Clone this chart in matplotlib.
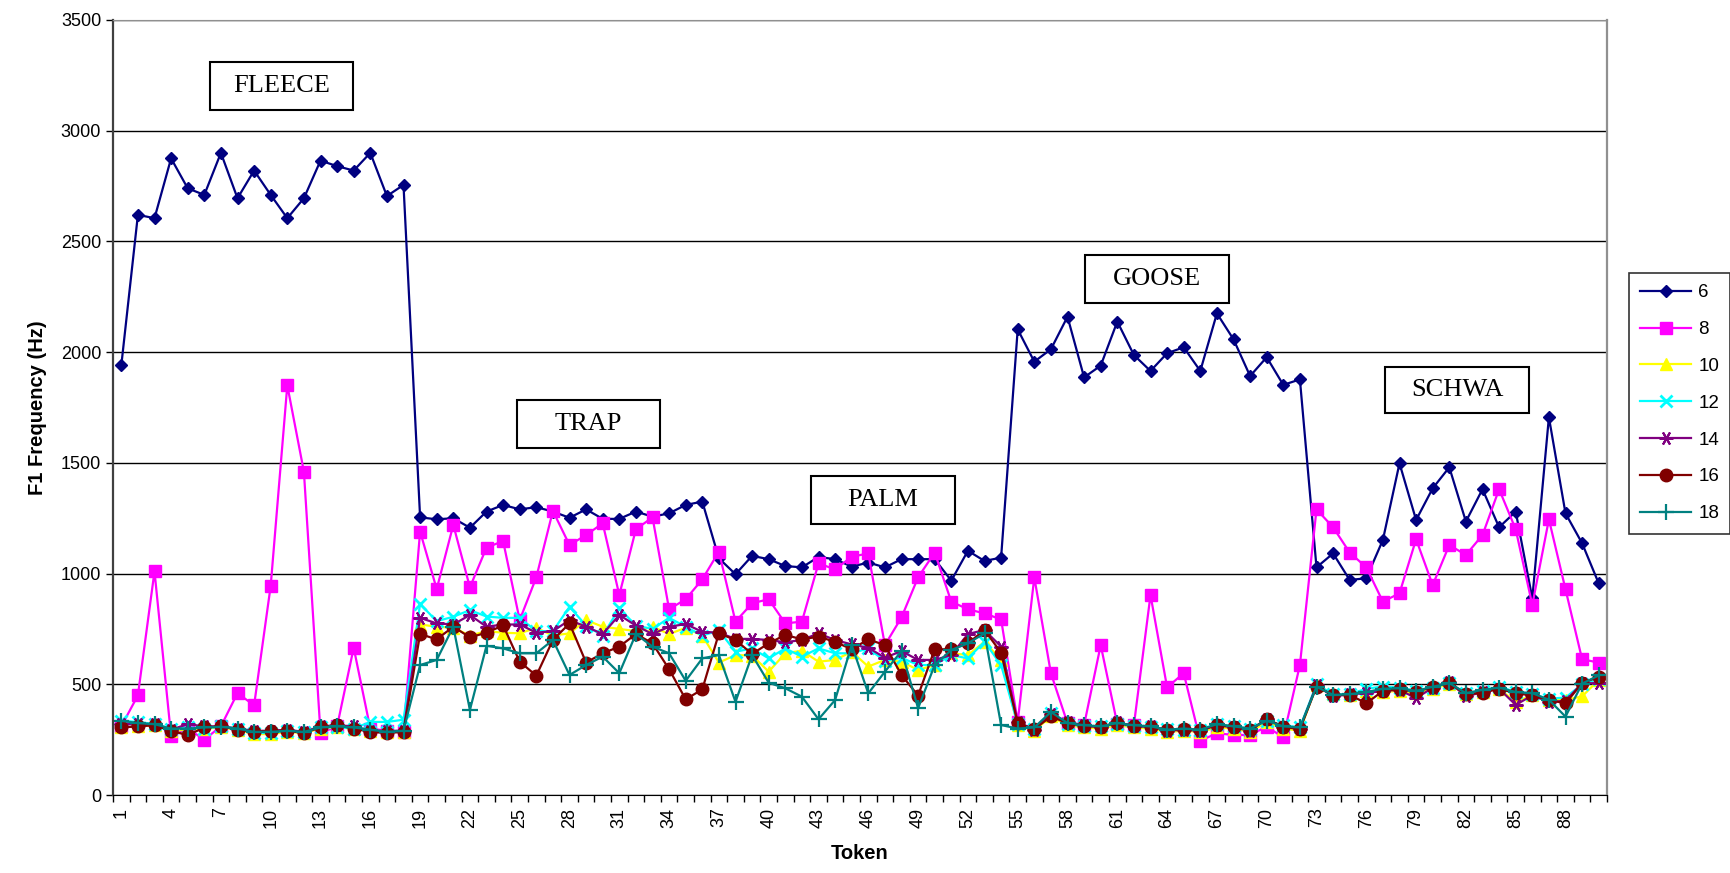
import matplotlib
matplotlib.use("Agg")
import matplotlib.pyplot as plt
from matplotlib.patches import Rectangle
import numpy as np

plt.rcParams['font.family'] = ['Liberation Sans', 'DejaVu Sans']

# ============================
# Data (F1 per token, one list per series)
# ============================
tokens = np.arange(1, 91)

f6 = [1940, 2620, 2605, 2875, 2740, 2710, 2900, 2695, 2820, 2710, 2605, 2695, 2865, 2840, 2820, 2900, 2705, 2755,
      1254, 1245, 1250, 1207, 1280, 1310, 1290, 1300, 1280, 1252, 1290, 1247, 1247, 1280, 1257, 1272, 1310, 1325, 1069, 997,
      1080, 1065, 1034, 1028, 1075, 1065, 1031, 1050, 1028, 1065, 1065, 1065, 968, 1103, 1057, 1072,
      2103, 1957, 2013, 2160, 1886, 1939, 2138, 1987, 1915, 1995, 2022, 1915, 2175, 2058, 1892, 1977, 1852, 1877,
      1028, 1091, 971, 979, 1152, 1498, 1242, 1385, 1480, 1235, 1381, 1209, 1280, 888, 1706, 1272, 1137, 956]

f8 = [310, 450, 1010, 265, 300, 250, 310, 460, 405, 945, 1850, 1460, 280, 310, 665, 300, 290, 285,
      1190, 930, 1220, 938, 1117, 1147, 790, 983, 1283, 1129, 1174, 1227, 903, 1200, 1254, 839, 884, 974, 1099, 783,
      866, 884, 775, 783, 1046, 1019, 1076, 1091, 677, 802, 983, 1095, 873, 839, 820, 793,
      330, 983, 550, 324, 316, 677, 320, 316, 903, 486, 550, 245, 279, 271, 271, 309, 260, 587,
      1290, 1209, 1095, 1028, 873, 911, 1155, 948, 1129, 1084, 1174, 1381, 1200, 858, 1245, 929, 613, 598]

f10 = [305, 310, 315, 290, 295, 300, 305, 295, 275, 275, 285, 280, 300, 305, 300, 290, 285, 285,
       770, 760, 755, 720, 740, 733, 730, 755, 720, 730, 790, 760, 750, 740, 760, 727, 755, 720, 598, 632,
       630, 557, 640, 652, 602, 610, 647, 580, 610, 602, 565, 587, 640, 632, 692, 610,
       315, 290, 355, 315, 305, 300, 315, 305, 300, 285, 290, 285, 305, 300, 285, 330, 300, 290,
       495, 455, 450, 470, 465, 470, 460, 480, 500, 455, 465, 480, 420, 450, 430, 430, 445, 520]

f12 = [335, 330, 320, 300, 305, 300, 310, 300, 280, 280, 290, 285, 305, 305, 300, 330, 330, 340,
       863, 785, 805, 835, 806, 800, 800, 740, 740, 850, 765, 720, 843, 765, 750, 800, 760, 720, 743, 647,
       662, 617, 662, 625, 662, 640, 640, 662, 605, 620, 587, 587, 632, 617, 692, 587,
       320, 300, 370, 320, 310, 310, 320, 310, 305, 300, 295, 295, 320, 310, 300, 335, 315, 305,
       500, 455, 455, 480, 490, 485, 470, 485, 505, 460, 470, 490, 465, 455, 435, 440, 500, 525]

f14 = [320, 320, 320, 295, 320, 310, 310, 300, 290, 290, 295, 285, 310, 315, 310, 290, 290, 290,
       800, 775, 770, 813, 760, 770, 770, 733, 740, 790, 760, 727, 813, 765, 727, 760, 772, 737, 733, 705,
       705, 700, 690, 700, 730, 700, 680, 665, 620, 650, 610, 610, 632, 727, 745, 670,
       330, 295, 365, 330, 315, 305, 330, 310, 310, 290, 295, 290, 315, 305, 290, 345, 305, 300,
       495, 445, 455, 460, 470, 475, 437, 485, 510, 445, 465, 480, 407, 450, 420, 425, 505, 505]

f16 = [305, 310, 315, 290, 270, 305, 310, 295, 285, 290, 290, 280, 305, 315, 300, 285, 280, 285,
       727, 703, 760, 712, 733, 766, 602, 539, 700, 775, 598, 640, 670, 727, 685, 568, 432, 477, 730, 700,
       637, 685, 723, 703, 715, 692, 658, 703, 677, 542, 449, 658, 658, 685, 745, 643,
       324, 297, 355, 324, 312, 309, 324, 312, 309, 294, 297, 294, 316, 309, 294, 342, 309, 297,
       489, 452, 452, 414, 470, 478, 465, 489, 507, 455, 462, 480, 459, 450, 429, 414, 505, 534]

f18 = [335, 325, 320, 300, 300, 305, 308, 300, 285, 285, 290, 285, 305, 310, 305, 295, 285, 290,
       587, 610, 760, 384, 674, 662, 640, 640, 700, 542, 587, 625, 550, 727, 670, 640, 516, 617, 632, 421,
       632, 507, 482, 444, 342, 429, 677, 459, 557, 650, 392, 587, 655, 685, 730, 316,
       300, 305, 375, 325, 315, 310, 325, 315, 310, 295, 300, 295, 320, 310, 300, 335, 310, 305,
       489, 452, 455, 465, 480, 482, 470, 489, 505, 460, 475, 485, 465, 460, 430, 354, 503, 540]

series_labels = ["6", "8", "10", "12", "14", "16", "18"]
series_values = [f6, f8, f10, f12, f14, f16, f18]

# vowel label boxes: (x0, x1, y0, y1) in data units
vowels = ["FLEECE", "TRAP", "PALM", "GOOSE", "SCHWA"]
vowel_boxes = [(6.34, 14.95, 3094, 3311),
               (24.84, 33.45, 1567, 1784),
               (42.53, 51.25, 1224, 1441),
               (59.05, 67.73, 2222, 2439),
               (77.13, 85.8, 1725, 1933)]

# ============================
# Styles
# ============================
styles = [
    dict(color="#000080", marker="D", ms=6.5),
    dict(color="#FF00FF", marker="s", ms=8.5),
    dict(color="#FFFF00", marker="^", ms=9),
    dict(color="#00FFFF", marker="x", ms=8, mew=2),
    dict(color="#800080", marker=(6, 2, 90), ms=10, mew=1.5),
    dict(color="#800000", marker="o", ms=9),
    dict(color="#008080", marker="+", ms=11, mew=1.6),
]

fig = plt.figure(figsize=(17.31, 8.73), dpi=100)
ax = fig.add_axes([113 / 1731, 1 - 795 / 873, (1607 - 113) / 1731, (795 - 20) / 873])

for lab, vals, st in zip(series_labels, series_values, styles):
    ax.plot(tokens, vals, color=st["color"], lw=1.6, marker=st["marker"],
            markersize=st["ms"], markeredgewidth=st.get("mew", 1),
            markerfacecolor=st["color"], markeredgecolor=st["color"], label=lab)

ax.set_xlim(0.5, 90.5)
ax.set_ylim(0, 3500)
ax.set_yticks(np.arange(0, 3501, 500))
ax.yaxis.grid(True, color="black", lw=1)
ax.set_axisbelow(True)

ax.set_xticks(tokens[::3])
ax.set_xticklabels([str(t) for t in tokens[::3]], rotation=90)
ax.set_xticks(np.arange(0.5, 91, 1), minor=True)
ax.tick_params(axis="x", which="major", length=0, labelsize=13, pad=9)
ax.tick_params(axis="x", which="minor", length=5, width=1, direction="out")
ax.tick_params(axis="y", length=5, width=1, direction="out", labelsize=13)

ax.spines["left"].set_color("#404040")
ax.spines["left"].set_linewidth(1.6)
ax.spines["bottom"].set_color("black")
ax.spines["top"].set_color("#909090")
ax.spines["right"].set_color("#909090")
ax.spines["right"].set_linewidth(1.6)

ax.set_xlabel("Token", fontsize=14.5, fontweight="bold", labelpad=12)
ax.set_ylabel("F1 Frequency (Hz)", fontsize=14.5, fontweight="bold", labelpad=10)

for name, (x0, x1, y0, y1) in zip(vowels, vowel_boxes):
    ax.add_patch(Rectangle((x0, y0), x1 - x0, y1 - y0, facecolor="white",
                           edgecolor="black", lw=1.5, zorder=5))
    ax.text((x0 + x1) / 2, (y0 + y1) / 2, name, ha="center", va="center",
            fontsize=19, family="Liberation Serif", zorder=6)

leg = fig.legend(loc="upper left", bbox_to_anchor=(1629 / 1731, 1 - 273 / 873),
                 fontsize=13.5, frameon=True, fancybox=False, edgecolor="black",
                 handlelength=2.7, labelspacing=1.05, borderpad=0.6, handletextpad=0.4,
                 borderaxespad=0)
leg.get_frame().set_linewidth(1.2)

plt.savefig("out.png", dpi=100)
